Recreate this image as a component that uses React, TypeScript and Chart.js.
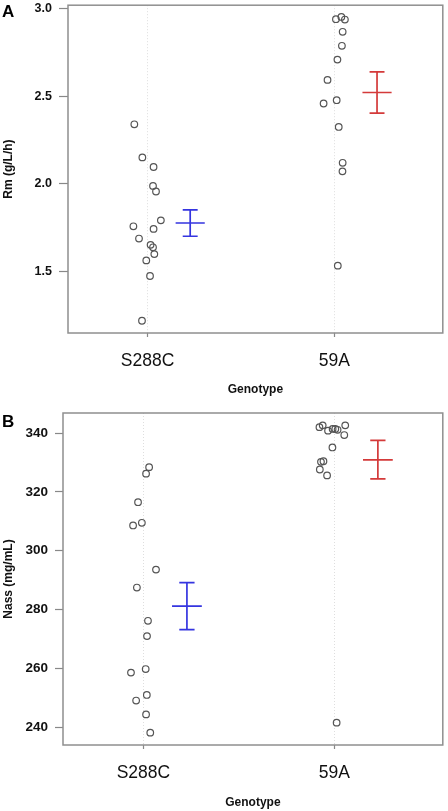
import React, { useEffect, useRef } from "react";
import { Chart, registerables } from "chart.js";
Chart.register(...registerables);

// ---------- data ----------
const categories = ["S288C", "59A"];
const categoryPositions = [1, 2];

// Panel A: Rm (g/L/h)
const rmS288CJitter = [-0.071, -0.028, 0.032, 0.029, 0.045, 0.071, -0.076, 0.032, -0.046, 0.016, 0.029, 0.036, -0.007, 0.013, -0.03];
const rmS288CValues = [2.339, 2.15, 2.095, 1.987, 1.955, 1.79, 1.756, 1.741, 1.686, 1.65, 1.636, 1.597, 1.561, 1.472, 1.216];
const rm59AJitter = [0.008, 0.037, 0.056, 0.044, 0.04, 0.016, -0.037, 0.012, -0.058, 0.023, 0.044, 0.043, 0.018];
const rm59AValues = [2.94, 2.953, 2.938, 2.868, 2.788, 2.709, 2.593, 2.477, 2.458, 2.324, 2.119, 2.07, 1.531];
const rmMeans = [1.775, 2.521];
const rmLower = [1.699, 2.403];
const rmUpper = [1.85, 2.639];
const rmTicks = [1.5, 2.0, 2.5, 3.0];

// Panel B: Nass (mg/mL)
const nassS288CJitter = [0.03, 0.014, -0.028, -0.008, -0.054, 0.066, -0.034, 0.024, 0.019, 0.012, -0.065, 0.018, -0.038, 0.014, 0.036];
const nassS288CValues = [328.4, 326.2, 316.5, 309.5, 308.6, 293.6, 287.5, 276.2, 271.0, 259.8, 258.6, 251.0, 249.1, 244.4, 238.2];
const nass59AJitter = [-0.078, -0.061, -0.033, -0.009, 0.005, 0.017, 0.057, 0.052, -0.01, -0.07, -0.057, -0.076, -0.038, 0.012];
const nass59AValues = [342.0, 342.6, 340.8, 341.4, 341.4, 341.1, 342.6, 339.3, 335.1, 330.2, 330.4, 327.6, 325.6, 241.6];
const nassMeans = [281.2, 330.9];
const nassLower = [273.2, 324.4];
const nassUpper = [289.2, 337.5];
const nassTicks = [240, 260, 280, 300, 320, 340];

// ---------- styling ----------
const FONT = "'Liberation Sans', Arial, Helvetica, sans-serif";
const barColors = ["#3535e0", "#d43a3a"];

const framePlugin = {
  id: "frameBox",
  afterDraw(chart: any) {
    const { ctx, chartArea } = chart;
    ctx.save();
    ctx.strokeStyle = "#8f8f8f";
    ctx.lineWidth = 1.5;
    ctx.strokeRect(chartArea.left, chartArea.top, chartArea.right - chartArea.left, chartArea.bottom - chartArea.top);
    ctx.restore();
  },
};

const errorBarPlugin = {
  id: "errorBars",
  afterDatasetsDraw(chart: any, _args: any, opts: any) {
    const { ctx } = chart;
    const xs = chart.scales.x;
    const ys = chart.scales.y;
    const means: number[] = opts.means;
    means.forEach((m, i) => {
      const cx = categoryPositions[i] + opts.offset;
      const px = xs.getPixelForValue(cx);
      const capL = xs.getPixelForValue(cx - opts.capHalf);
      const capR = xs.getPixelForValue(cx + opts.capHalf);
      const mL = xs.getPixelForValue(cx - opts.meanHalf);
      const mR = xs.getPixelForValue(cx + opts.meanHalf);
      const pm = ys.getPixelForValue(m);
      const plo = ys.getPixelForValue(opts.lower[i]);
      const phi = ys.getPixelForValue(opts.upper[i]);
      ctx.save();
      ctx.strokeStyle = barColors[i];
      ctx.lineWidth = 1.7;
      ctx.beginPath();
      ctx.moveTo(px, phi);
      ctx.lineTo(px, plo);
      ctx.moveTo(capL, phi);
      ctx.lineTo(capR, phi);
      ctx.moveTo(capL, plo);
      ctx.lineTo(capR, plo);
      ctx.moveTo(mL, pm);
      ctx.lineTo(mR, pm);
      ctx.stroke();
      ctx.restore();
    });
  },
};

type PanelCfg = {
  groups: { jitter: number[]; values: number[] }[];
  means: number[];
  lower: number[];
  upper: number[];
  ticks: number[];
  tickDigits: number;
  yTitle: string;
  xMin: number;
  xMax: number;
  yMin: number;
  yMax: number;
  yAxisWidth: number;
  xAxisHeight: number;
  padTop: number;
  yTickFont: number;
  yTickLen: number;
  yTickPad: number;
  xTickPad: number;
  xTitlePadBottom: number;
};

function zeroPadding(s: any) {
  s.paddingTop = 0;
  s.paddingBottom = 0;
  s.paddingLeft = 0;
  s.paddingRight = 0;
}

function buildChart(canvas: HTMLCanvasElement, c: PanelCfg) {
  const datasets = c.groups.map((g, gi) => ({
    data: g.jitter.map((j, i) => ({ x: categoryPositions[gi] + j, y: g.values[i] })),
    pointRadius: 3.3,
    pointBorderWidth: 1.2,
    pointBorderColor: "#555555",
    pointBackgroundColor: "rgba(0,0,0,0)",
    showLine: false,
  }));
  return new Chart(canvas, {
    type: "scatter",
    data: { datasets },
    plugins: [framePlugin, errorBarPlugin],
    options: {
      animation: false,
      responsive: false,
      devicePixelRatio: 1,
      layout: { padding: { top: c.padTop, right: 2, left: 0, bottom: 0 } },
      plugins: {
        legend: { display: false },
        tooltip: { enabled: false },
        errorBars: { means: c.means, lower: c.lower, upper: c.upper, offset: 0.228, capHalf: 0.04, meanHalf: 0.078 },
      } as any,
      scales: {
        x: {
          type: "linear",
          min: c.xMin,
          max: c.xMax,
          afterBuildTicks: (s: any) => {
            s.ticks = categoryPositions.map((v) => ({ value: v }));
          },
          afterFit: (s: any) => {
            s.height = c.xAxisHeight;
            zeroPadding(s);
          },
          ticks: {
            callback: (v: any) => categories[categoryPositions.indexOf(Number(v))] ?? "",
            color: "#111",
            font: { family: FONT, size: 17.5 },
            padding: c.xTickPad,
            maxRotation: 0,
            autoSkip: false,
          },
          grid: {
            drawOnChartArea: true,
            color: "#dedede",
            lineWidth: 1,
            tickLength: 4,
            tickColor: "#888",
            tickWidth: 1.2,
            tickBorderDash: [],
          } as any,
          border: { display: false, dash: [1, 2] },
          title: {
            display: true,
            text: "Genotype",
            color: "#111",
            font: { family: FONT, size: 12, weight: "bold" },
            padding: { top: 0, bottom: c.xTitlePadBottom },
          },
        },
        y: {
          type: "linear",
          min: c.yMin,
          max: c.yMax,
          afterBuildTicks: (s: any) => {
            s.ticks = c.ticks.map((v) => ({ value: v }));
          },
          afterFit: (s: any) => {
            s.width = c.yAxisWidth;
            zeroPadding(s);
          },
          ticks: {
            callback: (v: any) => Number(v).toFixed(c.tickDigits),
            color: "#111",
            font: { family: FONT, size: c.yTickFont, weight: "bold" },
            padding: c.yTickPad,
          },
          grid: {
            drawOnChartArea: false,
            tickLength: c.yTickLen,
            tickColor: "#888",
            tickWidth: 1.2,
          } as any,
          border: { display: false },
          title: {
            display: true,
            text: c.yTitle,
            color: "#111",
            font: { family: FONT, size: 12, weight: "bold" },
            padding: { top: 1, bottom: 0 },
          },
        },
      },
    } as any,
  });
}

export default function App() {
  const refA = useRef<HTMLCanvasElement>(null);
  const refB = useRef<HTMLCanvasElement>(null);

  useEffect(() => {
    const a = buildChart(refA.current!, {
      groups: [
        { jitter: rmS288CJitter, values: rmS288CValues },
        { jitter: rm59AJitter, values: rm59AValues },
      ],
      means: rmMeans,
      lower: rmLower,
      upper: rmUpper,
      ticks: rmTicks,
      tickDigits: 1,
      yTitle: "Rm (g/L/h)",
      xMin: 0.574,
      xMax: 2.58,
      yMin: 1.146,
      yMax: 3.02,
      yAxisWidth: 68,
      xAxisHeight: 67,
      padTop: 3,
      yTickFont: 12.5,
      yTickLen: 9,
      yTickPad: 7,
      xTickPad: 14,
      xTitlePadBottom: 3,
    });
    const b = buildChart(refB.current!, {
      groups: [
        { jitter: nassS288CJitter, values: nassS288CValues },
        { jitter: nass59AJitter, values: nass59AValues },
      ],
      means: nassMeans,
      lower: nassLower,
      upper: nassUpper,
      ticks: nassTicks,
      tickDigits: 0,
      yTitle: "Nass (mg/mL)",
      xMin: 0.579,
      xMax: 2.568,
      yMin: 234.0,
      yMax: 346.8,
      yAxisWidth: 63,
      xAxisHeight: 66,
      padTop: 13,
      yTickFont: 13.5,
      yTickLen: 8,
      yTickPad: 7,
      xTickPad: 14,
      xTitlePadBottom: 1,
    });
    return () => {
      a.destroy();
      b.destroy();
    };
  }, []);

  const panelLabel: React.CSSProperties = {
    position: "absolute",
    left: 2,
    fontFamily: FONT,
    fontWeight: "bold",
    fontSize: 17,
    lineHeight: "17px",
    color: "#000",
  };

  return (
    <div style={{ position: "absolute", left: 0, top: 0, width: 448, height: 811, background: "#fff", overflow: "hidden" }}>
      <canvas ref={refA} width={448} height={400} style={{ position: "absolute", left: 0, top: 0, width: 448, height: 400 }} />
      <canvas ref={refB} width={448} height={411} style={{ position: "absolute", left: 0, top: 400, width: 448, height: 411 }} />
      <div style={{ ...panelLabel, top: 3 }}>A</div>
      <div style={{ ...panelLabel, top: 413 }}>B</div>
    </div>
  );
}
